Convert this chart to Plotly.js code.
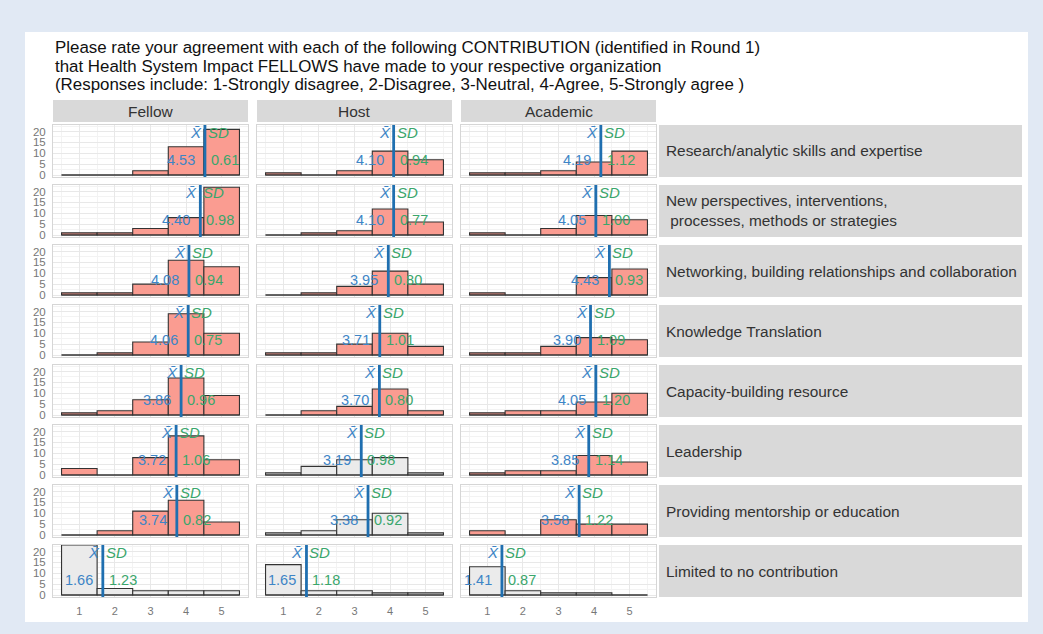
<!DOCTYPE html>
<html>
<head>
<meta charset="utf-8">
<script src="https://cdn.plot.ly/plotly-3.0.1.min.js"></script>
<style>
  html, body { margin: 0; padding: 0; background: #e1e9f4; }
  #chart { width: 1043px; height: 634px; }
</style>
</head>
<body>
<div id="chart"></div>
<script>
// ---------------- DATA ----------------
const titleLines = [
  "Please rate your agreement with each of the following CONTRIBUTION (identified in Round 1)",
  "that Health System Impact FELLOWS have made to your respective organization",
  "(Responses include: 1-Strongly disagree, 2-Disagree, 3-Neutral, 4-Agree, 5-Strongly agree )"
];
const groups = ["Fellow", "Host", "Academic"];
const contributions = [
  "Research/analytic skills and expertise",
  "New perspectives, interventions,<br>\u00a0processes, methods or strategies",
  "Networking, building relationships and collaboration",
  "Knowledge Translation",
  "Capacity-building resource",
  "Leadership",
  "Providing mentorship or education",
  "Limited to no contribution"
];
const ratings = [1, 2, 3, 4, 5];
const yTicks = [0, 5, 10, 15, 20];

const fellowCounts = [
  [0, 0, 2, 13, 21],
  [1, 1, 3, 8, 22],
  [1, 1, 5, 16, 13],
  [0, 1, 6, 19, 10],
  [1, 2, 7, 17, 9],
  [3, 0, 8, 18, 7],
  [0, 2, 11, 16, 6],
  [23, 3, 2, 2, 2]
];
const hostCounts = [
  [1, 0, 2, 11, 7],
  [0, 1, 2, 12, 6],
  [0, 1, 4, 11, 5],
  [1, 1, 5, 10, 4],
  [0, 2, 4, 12, 2],
  [1, 4, 7, 8, 1],
  [1, 2, 7, 10, 1],
  [14, 2, 2, 1, 1]
];
const academicCounts = [
  [1, 1, 2, 6, 11],
  [1, 0, 3, 9, 7],
  [1, 0, 0, 8, 12],
  [1, 1, 4, 8, 7],
  [1, 2, 2, 6, 10],
  [1, 2, 2, 9, 6],
  [2, 0, 7, 5, 5],
  [13, 2, 1, 1, 0]
];
const fellowMeans   = [4.53, 4.40, 4.08, 4.06, 3.86, 3.72, 3.74, 1.66];
const hostMeans     = [4.10, 4.10, 3.95, 3.71, 3.70, 3.19, 3.38, 1.65];
const academicMeans = [4.19, 4.05, 4.43, 3.90, 4.05, 3.85, 3.58, 1.41];
const fellowSDs   = [0.61, 0.98, 0.94, 0.75, 0.96, 1.06, 0.82, 1.23];
const hostSDs     = [0.94, 0.77, 0.80, 1.01, 0.80, 0.98, 0.92, 1.18];
const academicSDs = [1.12, 1.00, 0.93, 1.09, 1.20, 1.14, 1.22, 0.87];

// ---------------- LAYOUT / STYLE ----------------
const W = 1043, H = 634;
const px = v => v / W;
const py = v => 1 - v / H;
const FONT = "Liberation Sans, Arial, sans-serif";
const countsByGroup = [fellowCounts, hostCounts, academicCounts];
const meansByGroup = [fellowMeans, hostMeans, academicMeans];
const sdsByGroup = [fellowSDs, hostSDs, academicSDs];

const colLeft = [53, 257, 461];
const panelW = 195;
const rowTop0 = 125, rowStep = 60, panelH = 52;
const stripX0 = 659, stripX1 = 1022;

const SALMON = "#fa9c91", GREYFILL = "#ebebeb", EDGE = "#333333";
const LINEBLUE = "#1f6fb0", TXTBLUE = "#3d85c6", TXTGREEN = "#3aa66c";

const data = [];
const layout = {
  width: W, height: H,
  margin: { l: 0, r: 0, t: 0, b: 0 },
  paper_bgcolor: "#e1e9f4",
  plot_bgcolor: "#ffffff",
  showlegend: false,
  font: { family: FONT, size: 12, color: "#333" },
  shapes: [],
  annotations: []
};

// white card
layout.shapes.push({
  type: "rect", xref: "paper", yref: "paper", layer: "below",
  x0: px(25), x1: px(1028), y0: py(622), y1: py(32),
  fillcolor: "#ffffff", line: { width: 0 }
});

// title
titleLines.forEach((t, i) => {
  layout.annotations.push({
    xref: "paper", yref: "paper", x: px(53), y: py([47.5, 66, 84.5][i]),
    xanchor: "left", yanchor: "middle", showarrow: false, text: t,
    font: { family: FONT, size: 16.9, color: "#111" }
  });
});

// column strips
groups.forEach((g, c) => {
  layout.shapes.push({
    type: "rect", xref: "paper", yref: "paper", layer: "below",
    x0: px(colLeft[c]), x1: px(colLeft[c] + panelW), y0: py(122), y1: py(100),
    fillcolor: "#d9d9d9", line: { width: 0 }
  });
  layout.annotations.push({
    xref: "paper", yref: "paper", x: px(colLeft[c] + panelW / 2), y: py(111.5),
    xanchor: "center", yanchor: "middle", showarrow: false, text: g,
    font: { family: FONT, size: 15.5, color: "#333" }
  });
});

const xMin = ratings[0] - 0.74, xMax = ratings[ratings.length - 1] + 0.74;

contributions.forEach((lab, r) => {
  const top = rowTop0 + r * rowStep, bot = top + panelH;
  // row strip
  layout.shapes.push({
    type: "rect", xref: "paper", yref: "paper", layer: "below",
    x0: px(stripX0), x1: px(stripX1), y0: py(bot), y1: py(top),
    fillcolor: "#d9d9d9", line: { width: 0 }
  });
  layout.annotations.push({
    xref: "paper", yref: "paper", x: px(664), y: py((top + bot) / 2),
    xanchor: "left", yanchor: "middle", align: "left", showarrow: false, text: lab,
    font: { family: FONT, size: 15.4, color: "#333" }
  });

  groups.forEach((g, c) => {
    const n = r * 3 + c + 1;
    const xa = "x" + n, ya = "y" + n;
    const xKey = n === 1 ? "xaxis" : "xaxis" + n;
    const yKey = n === 1 ? "yaxis" : "yaxis" + n;
    const counts = countsByGroup[c][r];
    const mean = meansByGroup[c][r];
    const sd = sdsByGroup[c][r];
    const fill = mean < 3.5 ? GREYFILL : SALMON;

    layout[xKey] = {
      domain: [px(colLeft[c]), px(colLeft[c] + panelW)],
      anchor: ya, range: [xMin, xMax], fixedrange: true,
      tickvals: ratings, ticktext: ratings.map(String),
      showticklabels: r === contributions.length - 1,
      ticks: "outside", ticklen: 4, tickcolor: "rgba(0,0,0,0)",
      tickfont: { family: FONT, size: 11, color: "#777" },
      showgrid: true, gridcolor: "#e8e8e8", gridwidth: 1,
      minor: { showgrid: true, gridcolor: "#f3f3f3", dtick: 0.5, tick0: 0.5 },
      zeroline: false,
      showline: true, mirror: true, linecolor: "#d6d6d6", linewidth: 1
    };
    layout[yKey] = {
      domain: [py(bot), py(top)],
      anchor: xa, range: [-0.9, 23.0], fixedrange: true,
      tickvals: yTicks, ticktext: yTicks.map(String),
      showticklabels: c === 0,
      ticks: "outside", ticklen: 4, tickcolor: "rgba(0,0,0,0)",
      tickfont: { family: FONT, size: 11.5, color: "#777" },
      showgrid: true, gridcolor: "#e8e8e8", gridwidth: 1,
      minor: { showgrid: true, gridcolor: "#f3f3f3", dtick: 2.5, tick0: 0 },
      zeroline: false,
      showline: true, mirror: true, linecolor: "#d6d6d6", linewidth: 1
    };

    // histogram bars
    data.push({
      type: "bar", x: ratings, y: counts, width: 1,
      xaxis: xa, yaxis: ya, hoverinfo: "skip",
      marker: { color: fill, line: { color: EDGE, width: 1.1 } }
    });
    // base line along zero for empty bins
    data.push({
      type: "scatter", mode: "lines",
      x: [ratings[0] - 0.5, ratings[ratings.length - 1] + 0.5], y: [0, 0],
      xaxis: xa, yaxis: ya, hoverinfo: "skip",
      line: { color: EDGE, width: 1.1 }
    });

    // mean line
    layout.shapes.push({
      type: "line", xref: xa, yref: ya + " domain",
      x0: mean, x1: mean, y0: 0, y1: 1,
      line: { color: LINEBLUE, width: 2.8 }
    });

    // labels
    layout.annotations.push({
      xref: xa, yref: ya, x: mean, y: 19.6, xanchor: "right", yanchor: "middle",
      xshift: -1, showarrow: false, text: "<i>X\u0304</i>",
      font: { family: FONT, size: 15, color: TXTBLUE }
    });
    layout.annotations.push({
      xref: xa, yref: ya, x: mean, y: 19.6, xanchor: "left", yanchor: "middle",
      xshift: 1, showarrow: false, text: "<i>SD</i>",
      font: { family: FONT, size: 15, color: TXTGREEN }
    });
    layout.annotations.push({
      xref: xa, yref: ya, x: mean, y: 6.8, xanchor: "right", yanchor: "middle",
      xshift: -8, showarrow: false, text: mean.toFixed(2),
      font: { family: FONT, size: 14.5, color: TXTBLUE }
    });
    layout.annotations.push({
      xref: xa, yref: ya, x: mean, y: 6.8, xanchor: "left", yanchor: "middle",
      xshift: 4, showarrow: false, text: sd.toFixed(2),
      font: { family: FONT, size: 14.5, color: TXTGREEN }
    });
  });
});

Plotly.newPlot("chart", data, layout, { displayModeBar: false, staticPlot: true });
</script>
</body>
</html>
